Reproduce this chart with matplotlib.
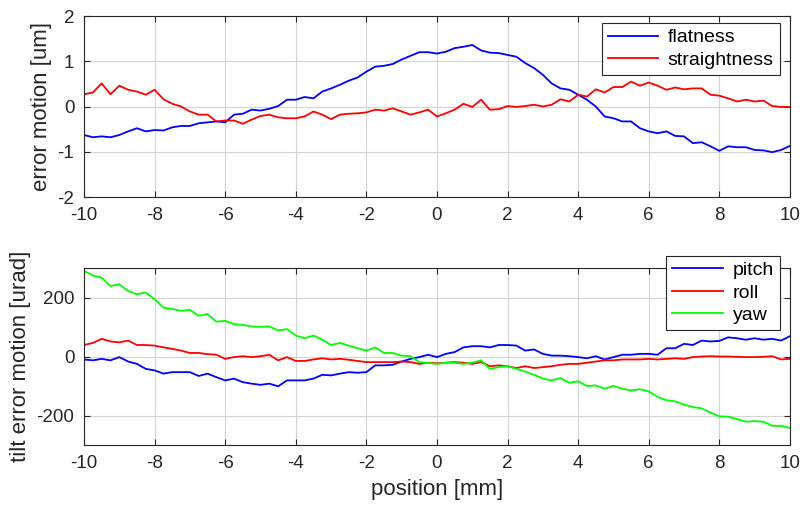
import matplotlib
matplotlib.use("Agg")
import matplotlib.pyplot as plt
import numpy as np

# positions along the stage, 0.25 mm steps
position = np.arange(-10, 10.001, 0.25)

flatness = [
    -0.63, -0.68, -0.66, -0.68, -0.63, -0.55, -0.48, -0.55, -0.52, -0.53,
    -0.46, -0.43, -0.43, -0.37, -0.35, -0.33, -0.35, -0.18, -0.16, -0.07,
    -0.09, -0.05, 0.01, 0.15, 0.15, 0.21, 0.18, 0.33, 0.40, 0.48,
    0.57, 0.64, 0.77, 0.88, 0.90, 0.94, 1.04, 1.12, 1.20, 1.20,
    1.17, 1.21, 1.29, 1.32, 1.36, 1.24, 1.19, 1.18, 1.14, 1.10,
    0.96, 0.85, 0.70, 0.51, 0.40, 0.37, 0.26, 0.15, 0.00, -0.22,
    -0.26, -0.33, -0.33, -0.48, -0.55, -0.59, -0.55, -0.65, -0.66, -0.81,
    -0.79, -0.88, -0.98, -0.88, -0.90, -0.90, -0.96, -0.97, -1.01, -0.96,
    -0.87,
]
straightness = [
    0.27, 0.31, 0.51, 0.27, 0.46, 0.37, 0.33, 0.26, 0.37, 0.16,
    0.06, 0.00, -0.11, -0.18, -0.18, -0.33, -0.31, -0.31, -0.38, -0.29,
    -0.21, -0.18, -0.24, -0.26, -0.26, -0.22, -0.11, -0.18, -0.28, -0.18,
    -0.16, -0.15, -0.13, -0.07, -0.09, -0.04, -0.11, -0.18, -0.13, -0.07,
    -0.22, -0.15, -0.07, 0.06, -0.01, 0.15, -0.07, -0.06, 0.01, -0.01,
    0.01, 0.04, 0.00, 0.04, 0.16, 0.11, 0.26, 0.22, 0.38, 0.31,
    0.43, 0.43, 0.55, 0.46, 0.53, 0.46, 0.37, 0.42, 0.38, 0.40,
    0.40, 0.26, 0.24, 0.18, 0.11, 0.15, 0.11, 0.13, 0.01, -0.01,
    -0.01,
]

pitch = [
    -10, -13, -8, -13, -2, -17, -25, -42, -47, -58,
    -53, -53, -53, -66, -58, -70, -81, -75, -87, -92,
    -96, -92, -101, -81, -81, -81, -75, -62, -64, -58,
    -53, -55, -53, -30, -30, -28, -17, -8, -2, 6,
    -2, 9, 15, 31, 35, 35, 31, 39, 39, 37,
    20, 24, 9, 3, 3, 1, -2, -6, 1, -10,
    -2, 6, 6, 9, 9, 6, 28, 28, 43, 39,
    54, 51, 53, 65, 62, 57, 62, 57, 60, 54,
    69,
]
roll = [
    39, 46, 60, 51, 48, 54, 39, 39, 37, 31,
    26, 20, 12, 12, 8, 6, -8, -2, 1, -2,
    1, 6, -13, -2, -15, -15, -10, -6, -10, -8,
    -11, -15, -19, -19, -19, -19, -17, -19, -25, -21,
    -23, -21, -19, -21, -25, -19, -33, -30, -33, -39,
    -33, -39, -36, -33, -28, -25, -25, -21, -17, -13,
    -13, -10, -10, -10, -8, -10, -8, -6, -8, -2,
    0, 1, 0, 0, -1, -2, -2, -1, 1, -10,
    -8,
]
yaw = [
    290, 275, 267, 239, 245, 222, 211, 217, 194, 166,
    161, 155, 158, 138, 144, 118, 121, 110, 107, 102,
    101, 102, 88, 93, 71, 62, 71, 57, 39, 46,
    37, 28, 20, 31, 12, 12, 3, 1, -19, -22,
    -25, -21, -21, -25, -21, -13, -42, -36, -33, -42,
    -51, -62, -75, -81, -73, -89, -84, -100, -98, -109,
    -100, -109, -115, -111, -118, -137, -148, -152, -163, -171,
    -176, -190, -203, -204, -212, -221, -219, -221, -235, -235,
    -242,
]

plt.rcParams["font.family"] = ["Liberation Sans", "DejaVu Sans"]
plt.rcParams["axes.unicode_minus"] = False

TEXT = "#262626"


def style_axes(ax):
    ax.set_xlim(-10, 10)
    ax.set_xticks(np.arange(-10, 11, 2))
    ax.grid(True, color="#d4d4d4", linewidth=0.8)
    ax.set_axisbelow(True)
    ax.tick_params(direction="in", top=True, right=True, length=4,
                   colors=TEXT, labelsize=13.5, pad=7)
    for spine in ax.spines.values():
        spine.set_color(TEXT)
        spine.set_linewidth(0.8)


def add_legend(ax, anchor):
    leg = ax.legend(loc="upper right", bbox_to_anchor=anchor,
                    fancybox=False, edgecolor=TEXT, framealpha=1,
                    fontsize=14, handlelength=2.6, borderpad=0.3,
                    labelspacing=0.25, handletextpad=0.5, borderaxespad=0)
    leg.get_frame().set_linewidth(0.8)
    return leg


fig = plt.figure(figsize=(8.04, 5.08), dpi=100)
ax_top = fig.add_axes([0.1045, 0.6122, 0.878, 0.3563])
ax_bot = fig.add_axes([0.1045, 0.1240, 0.878, 0.3484])

ax_top.plot(position, flatness, color=(0, 0, 1), lw=1.3, label="flatness")
ax_top.plot(position, straightness, color=(1, 0, 0), lw=1.3, label="straightness")
ax_top.set_ylim(-2, 2)
ax_top.set_yticks([-2, -1, 0, 1, 2])
ax_top.set_ylabel("error motion [um]", color=TEXT, fontsize=16, labelpad=4)
style_axes(ax_top)
add_legend(ax_top, (0.9855, 0.962))

ax_bot.plot(position, pitch, color=(0, 0, 1), lw=1.3, label="pitch")
ax_bot.plot(position, roll, color=(1, 0, 0), lw=1.3, label="roll")
ax_bot.plot(position, yaw, color=(0, 1, 0), lw=1.3, label="yaw")
ax_bot.set_ylim(-300, 300)
ax_bot.set_yticks([-200, 0, 200])
ax_bot.set_ylabel("tilt error motion [urad]", color=TEXT, fontsize=16, labelpad=4)
ax_bot.set_xlabel("position [mm]", color=TEXT, fontsize=16, labelpad=5)
style_axes(ax_bot)
add_legend(ax_bot, (0.9855, 1.07))

fig.savefig("out.png", dpi=100)
